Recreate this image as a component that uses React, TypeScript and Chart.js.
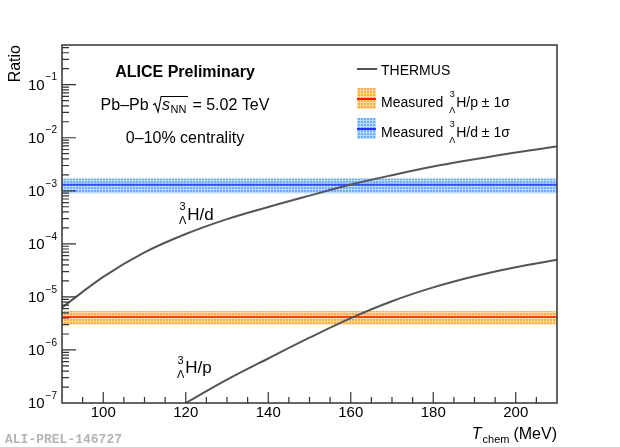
import React, { useEffect, useRef } from 'react';
import { Chart, registerables } from 'chart.js';

Chart.register(...registerables);

const FONT = '"Liberation Sans", Arial, Helvetica, sans-serif';

// THERMUS curves
const temperature = [90, 100, 110, 120, 130, 140, 150, 160, 170, 180, 190, 200, 210];
const hdThermus = [6.3e-6, 2.38e-5, 6.9e-5, 1.53e-4, 2.92e-4, 4.95e-4, 8.1e-4, 1.31e-3, 1.97e-3, 2.87e-3, 3.93e-3, 5.28e-3, 6.85e-3];
const hpTemperature = [120, 130, 140, 150, 160, 170, 180, 190, 200, 210];
const hpThermus = [1.0e-7, 2.75e-7, 6.9e-7, 1.7e-6, 3.98e-6, 8.3e-6, 1.51e-5, 2.45e-5, 3.63e-5, 5.0e-5];

// measured ratios (value, 1 sigma)
const bandEdges = [90, 210];
const hdMeasured = [1.3e-3, 0.4e-3];
const hpMeasured = [4.2e-6, 1.2e-6];

// axes
const xRange = [90, 210];
const yRange = [1e-7, 0.56];
const xTickLabels = [100, 120, 140, 160, 180, 200];
const yDecades = [-7, -6, -5, -4, -3, -2, -1];

function makePattern(ctx: CanvasRenderingContext2D, base: string) {
  const tile = document.createElement('canvas');
  tile.width = 3;
  tile.height = 3;
  const g = tile.getContext('2d')!;
  g.fillStyle = base;
  g.fillRect(0, 0, 3, 3);
  g.fillStyle = 'rgba(255,255,255,0.55)';
  g.fillRect(0, 0, 3, 1);
  g.fillRect(0, 1, 1, 2);
  return ctx.createPattern(tile, 'repeat')!;
}

// draws the "3 over Lambda" prescript followed by the rest of the label
function drawHyper(ctx: CanvasRenderingContext2D, x: number, base: number, size: number, rest: string, supDy: number, subDy: number) {
  const small = Math.round(size * 0.64);
  ctx.textAlign = 'left';
  ctx.textBaseline = 'alphabetic';
  ctx.font = `${small}px ${FONT}`;
  ctx.fillText('3', x + 0.5, base + supDy);
  ctx.fillText('\u039B', x, base + subDy);
  const w = Math.max(ctx.measureText('3').width, ctx.measureText('\u039B').width);
  ctx.font = `${size}px ${FONT}`;
  ctx.fillText(rest, x + w + 1, base);
}

const band = (vals: number[], sign: number) =>
  bandEdges.map((t) => ({ x: t, y: vals[0] + sign * vals[1] }));

const App: React.FC = () => {
  const chartRef = useRef<HTMLCanvasElement>(null);

  useEffect(() => {
    document.body.style.margin = '0';
    const canvas = chartRef.current!;
    const ctx0 = canvas.getContext('2d')!;
    const orangeFill = makePattern(ctx0, '#ffae3a');
    const blueFill = makePattern(ctx0, '#6aaeff');

    const overlay = {
      id: 'rootStyle',
      afterDraw(chart: any) {
        const ctx: CanvasRenderingContext2D = chart.ctx;
        const xs = chart.scales.x;
        const ys = chart.scales.y;
        const a = chart.chartArea;
        ctx.save();
        ctx.strokeStyle = '#333';
        ctx.fillStyle = '#000';
        ctx.lineWidth = 1.5;
        ctx.strokeRect(a.left, a.top, a.right - a.left, a.bottom - a.top);

        // x ticks
        ctx.lineWidth = 1.2;
        ctx.beginPath();
        for (let t = xRange[0] + 5; t < xRange[1]; t += 5) {
          const px = xs.getPixelForValue(t);
          const len = t % 20 === 0 ? 11 : 6;
          ctx.moveTo(px, a.bottom);
          ctx.lineTo(px, a.bottom - len);
        }
        // y ticks
        for (const d of yDecades) {
          for (let m = 1; m <= 9; m++) {
            const v = m * Math.pow(10, d);
            if (v <= yRange[0] || v >= yRange[1]) continue;
            const py = ys.getPixelForValue(v);
            ctx.moveTo(a.left, py);
            ctx.lineTo(a.left + (m === 1 ? 14 : 7), py);
          }
        }
        for (let m = 2; m <= 9; m++) {
          const v = m * 0.1;
          if (v >= yRange[1]) break;
          const py = ys.getPixelForValue(v);
          ctx.moveTo(a.left, py);
          ctx.lineTo(a.left + 7, py);
        }
        ctx.stroke();

        // x labels
        ctx.font = `15px ${FONT}`;
        ctx.textAlign = 'center';
        ctx.textBaseline = 'middle';
        for (const t of xTickLabels) {
          ctx.fillText(String(t), xs.getPixelForValue(t), a.bottom + 10);
        }
        // y labels
        for (const d of yDecades) {
          const py = ys.getPixelForValue(Math.pow(10, d));
          const sup = '\u2212' + Math.abs(d);
          ctx.textAlign = 'right';
          ctx.font = `10px ${FONT}`;
          const sw = ctx.measureText(sup).width;
          ctx.fillText(sup, a.left - 5, py - 7);
          ctx.font = `15px ${FONT}`;
          ctx.fillText('10', a.left - 6 - sw, py + 1);
        }

        // axis titles
        ctx.save();
        ctx.translate(20, a.top);
        ctx.rotate(-Math.PI / 2);
        ctx.font = `16px ${FONT}`;
        ctx.textAlign = 'right';
        ctx.textBaseline = 'alphabetic';
        ctx.fillText('Ratio', 0, 0);
        ctx.restore();

        ctx.textBaseline = 'alphabetic';
        ctx.textAlign = 'right';
        ctx.font = `16px ${FONT}`;
        ctx.fillText('(MeV)', a.right, 439);
        let xr = a.right - ctx.measureText('(MeV)').width - 4;
        ctx.font = `11px ${FONT}`;
        ctx.fillText('chem', xr, 443);
        xr -= ctx.measureText('chem').width + 1;
        ctx.font = `italic 16px ${FONT}`;
        ctx.fillText('T', xr, 439);

        // watermark
        ctx.textAlign = 'left';
        ctx.fillStyle = '#b4b4b4';
        ctx.font = `bold 13px "Liberation Mono", "DejaVu Sans Mono", monospace`;
        ctx.fillText('ALI-PREL-146727', 5, 443);
        ctx.fillStyle = '#000';

        // header text
        ctx.textAlign = 'center';
        ctx.font = `bold 16px ${FONT}`;
        ctx.fillText('ALICE Preliminary', 185, 77);
        ctx.font = `16px ${FONT}`;
        ctx.fillText('0\u201310% centrality', 185, 143);

        // Pb-Pb sqrt(s_NN) line
        ctx.textAlign = 'left';
        const p1 = 'Pb\u2013Pb ';
        const p3 = ' = 5.02 TeV';
        ctx.font = `16px ${FONT}`;
        const w1 = ctx.measureText(p1).width;
        const w3 = ctx.measureText(p3).width;
        ctx.font = `italic 16px ${FONT}`;
        const ws = ctx.measureText('s').width;
        ctx.font = `11px ${FONT}`;
        const wn = ctx.measureText('NN').width;
        const total = w1 + 9 + ws + wn + 2 + w3;
        let px = 185 - total / 2;
        const base = 110;
        ctx.font = `16px ${FONT}`;
        ctx.fillText(p1, px, base);
        px += w1;
        ctx.lineWidth = 1.1;
        ctx.strokeStyle = '#000';
        ctx.beginPath();
        ctx.moveTo(px, base - 5);
        ctx.lineTo(px + 2, base - 6.5);
        ctx.lineTo(px + 5, base + 2);
        ctx.lineTo(px + 8, base - 13.5);
        ctx.lineTo(px + 9 + ws + wn + 2, base - 13.5);
        ctx.stroke();
        px += 9;
        ctx.font = `italic 16px ${FONT}`;
        ctx.fillText('s', px, base);
        px += ws + 0.5;
        ctx.font = `11px ${FONT}`;
        ctx.fillText('NN', px, base + 3);
        px += wn + 1.5;
        ctx.font = `16px ${FONT}`;
        ctx.fillText(p3, px, base);

        // curve labels
        drawHyper(ctx, 179, 220, 17, 'H/d', -10, 4);
        drawHyper(ctx, 177, 373, 17, 'H/p', -9, 5);

        // legend
        ctx.strokeStyle = '#555';
        ctx.lineWidth = 2;
        ctx.beginPath();
        ctx.moveTo(357, 69);
        ctx.lineTo(377, 69);
        ctx.stroke();
        ctx.fillStyle = orangeFill;
        ctx.fillRect(357, 88, 19, 21);
        ctx.fillStyle = blueFill;
        ctx.fillRect(357, 118, 19, 21);
        ctx.lineWidth = 2;
        ctx.strokeStyle = '#ff1a00';
        ctx.beginPath();
        ctx.moveTo(357, 99);
        ctx.lineTo(376, 99);
        ctx.stroke();
        ctx.strokeStyle = '#2233ff';
        ctx.beginPath();
        ctx.moveTo(357, 129);
        ctx.lineTo(376, 129);
        ctx.stroke();

        ctx.fillStyle = '#000';
        ctx.font = `14px ${FONT}`;
        ctx.textAlign = 'left';
        ctx.fillText('THERMUS', 381, 75);
        const rows: [number, string][] = [[107, 'H/p \u00B1 1\u03C3'], [137, 'H/d \u00B1 1\u03C3']];
        for (const [b, txt] of rows) {
          ctx.font = `14px ${FONT}`;
          ctx.fillText('Measured ', 381, b);
          const mw = ctx.measureText('Measured ').width;
          drawHyper(ctx, 381 + mw + 2, b, 14, txt, -10, 6);
        }
        ctx.restore();
      },
    };

    const config: any = {
      type: 'line',
      data: {
        datasets: [
          {
            label: 'THERMUS H/d',
            data: temperature.map((t, i) => ({ x: t, y: hdThermus[i] })),
            borderColor: '#555',
            borderWidth: 2,
            pointRadius: 0,
            cubicInterpolationMode: 'monotone',
            fill: false,
            order: 0,
          },
          {
            label: 'THERMUS H/p',
            data: hpTemperature.map((t, i) => ({ x: t, y: hpThermus[i] })),
            borderColor: '#555',
            borderWidth: 2,
            pointRadius: 0,
            cubicInterpolationMode: 'monotone',
            fill: false,
            order: 0,
          },
          {
            label: 'H/d high',
            data: band(hdMeasured, 1),
            borderWidth: 0,
            borderColor: 'rgba(0,0,0,0)',
            backgroundColor: blueFill,
            pointRadius: 0,
            fill: '+1',
            order: 2,
          },
          {
            label: 'H/d low',
            data: band(hdMeasured, -1),
            borderWidth: 0,
            borderColor: 'rgba(0,0,0,0)',
            pointRadius: 0,
            fill: false,
            order: 2,
          },
          {
            label: 'H/d',
            data: band(hdMeasured, 0),
            borderColor: 'rgba(20,40,255,0.75)',
            borderWidth: 2,
            pointRadius: 0,
            fill: false,
            order: 1,
          },
          {
            label: 'H/p high',
            data: band(hpMeasured, 1),
            borderWidth: 0,
            borderColor: 'rgba(0,0,0,0)',
            backgroundColor: orangeFill,
            pointRadius: 0,
            fill: '+1',
            order: 2,
          },
          {
            label: 'H/p low',
            data: band(hpMeasured, -1),
            borderWidth: 0,
            borderColor: 'rgba(0,0,0,0)',
            pointRadius: 0,
            fill: false,
            order: 2,
          },
          {
            label: 'H/p',
            data: band(hpMeasured, 0),
            borderColor: 'rgba(255,30,0,0.8)',
            borderWidth: 2,
            pointRadius: 0,
            fill: false,
            order: 1,
          },
        ],
      },
      options: {
        responsive: false,
        animation: false,
        layout: { padding: { left: 62, right: 63, top: 45, bottom: 44 } },
        plugins: {
          legend: { display: false },
          tooltip: { enabled: false },
        },
        scales: {
          x: { type: 'linear', min: xRange[0], max: xRange[1], display: false },
          y: { type: 'logarithmic', min: yRange[0], max: yRange[1], display: false },
        },
      },
      plugins: [overlay],
    };

    const myChart = new Chart(canvas, config);
    return () => {
      myChart.destroy();
    };
  }, []);

  return (
    <div style={{ width: 620, height: 447, background: '#fff' }}>
      <canvas ref={chartRef} width={620} height={447}></canvas>
    </div>
  );
};

export default App;
